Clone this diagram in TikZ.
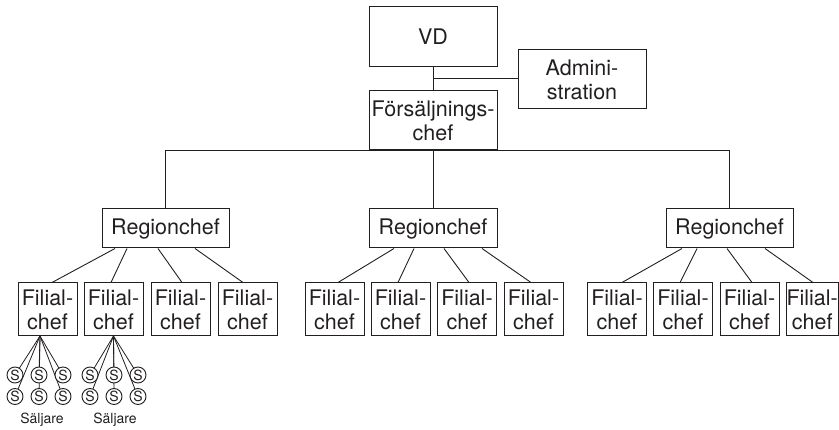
\documentclass[tikz,border=0pt]{standalone}
\usepackage{fontspec}
\setmainfont{TeX Gyre Heros}
\definecolor{ink}{HTML}{231F20}
\begin{document}
\begin{tikzpicture}[x=1pt,y=-1pt,
  box/.style={draw=ink,line width=1pt,rectangle,inner sep=0pt,align=center,text=ink,
    font=\fontsize{21.5}{24}\selectfont},
  big/.style={box,minimum width=128pt,minimum height=59pt},
  reg/.style={box,minimum width=127pt,minimum height=39pt},
  fil/.style={box,minimum width=59pt,minimum height=53pt},
  sel/.style={draw=ink,line width=0.9pt,circle,fill=white,inner sep=0pt,minimum size=16pt,
    text=ink,font=\fontsize{14}{14}\selectfont},
  lab/.style={text=ink,inner sep=0pt,font=\fontsize{14}{14}\selectfont},
  conn/.style={draw=ink,line width=0.9pt},
  thin/.style={draw=ink,line width=0.8pt}]
\useasboundingbox (0,0) rectangle (839,430);

\node[big,minimum height=60pt] (vd) at (433,37) {VD};
\node[big] (adm) at (582,79.5) {Admini-\\stration};
\node[big] (fc) at (433,120.5) {Försäljnings-\\chef};

\node[reg] (rl) at (165.5,228.5) {Regionchef};
\node[reg,minimum width=128pt] (rm) at (433,228.5) {Regionchef};
\node[reg] (rr) at (729.5,228.5) {Regionchef};

\node[fil] (l1) at (47.5,309.5) {Filial-\\chef};
\node[fil] (l2) at (113.5,309.5) {Filial-\\chef};
\node[fil] (l3) at (180.5,309.5) {Filial-\\chef};
\node[fil] (l4) at (247.5,309.5) {Filial-\\chef};
\node[fil] (m1) at (334.5,309.5) {Filial-\\chef};
\node[fil] (m2) at (400.5,309.5) {Filial-\\chef};
\node[fil] (m3) at (467,309.5) {Filial-\\chef};
\node[fil] (m4) at (533.5,309.5) {Filial-\\chef};
\node[fil] (r1) at (617,309.5) {Filial-\\chef};
\node[fil] (r2) at (683,309.5) {Filial-\\chef};
\node[fil] (r3) at (749.5,309.5) {Filial-\\chef};
\node[fil,minimum width=52pt] (r4) at (812.2,309.5) {Filial-\\chef};

% top connectors
\draw[conn] (vd.south) -- (fc.north);
\draw[conn] (adm.west |- 0,78) -- (vd.south |- 0,78);
\draw[conn] (rl.north) |- (fc.south) -| (rr.north);
\draw[conn] (fc.south) -- (rm.north);

% region to branch connectors
\draw[conn] ([xshift=-50.5pt]rl.south) -- ([xshift=4.5pt]l1.north);
\draw[conn] ([xshift=-38.5pt]rl.south) -- ([xshift=-2.5pt]l2.north);
\draw[conn] ([xshift=-7.5pt]rl.south) -- ([xshift=1.5pt]l3.north);
\draw[conn] ([xshift=29.5pt]rl.south) -- ([xshift=-4.5pt]l4.north);
\draw[conn] ([xshift=-39pt]rm.south) -- ([xshift=3.5pt]m1.north);
\draw[conn] ([xshift=-19pt]rm.south) -- ([xshift=-2.5pt]m2.north);
\draw[conn] ([xshift=11pt]rm.south) -- ([xshift=2pt]m3.north);
\draw[conn] ([xshift=49pt]rm.south) -- ([xshift=-2.5pt]m4.north);
\draw[conn] ([xshift=-47.5pt]rr.south) -- ([xshift=5pt]r1.north);
\draw[conn] ([xshift=-32.5pt]rr.south) -- ([xshift=-3pt]r2.north);
\draw[conn] ([xshift=-2.5pt]rr.south) -- ([xshift=2.5pt]r3.north);
\draw[conn] ([xshift=35.5pt]rr.south) -- ([xshift=0.8pt]r4.north);

% salespeople
\coordinate (ap1) at (40,336);
\coordinate (ap2) at (113.5,336);
\foreach \g/\ap/\xa/\xb/\xc in {1/ap1/15/39/63, 2/ap2/90/114/138}{
  \foreach \c/\xx in {a/\xa, b/\xb, c/\xc}{
    \coordinate (t\g\c) at (\xx,375);
    \coordinate (u\g\c) at (\xx,396.5);
    \draw[thin] (\ap) -- (t\g\c);
    \draw[thin] (\ap) -- (u\g\c);
  }
  \foreach \c/\xx in {a/\xa, b/\xb, c/\xc}{
    \node[sel] (s\g\c) at (\xx,375) {S};
    \node[sel] (v\g\c) at (\xx,396.5) {S};
  }
}
\node[lab] (sl1) at (42,420) {Säljare};
\node[lab] (sl2) at (115,420) {Säljare};
\end{tikzpicture}
\end{document}
